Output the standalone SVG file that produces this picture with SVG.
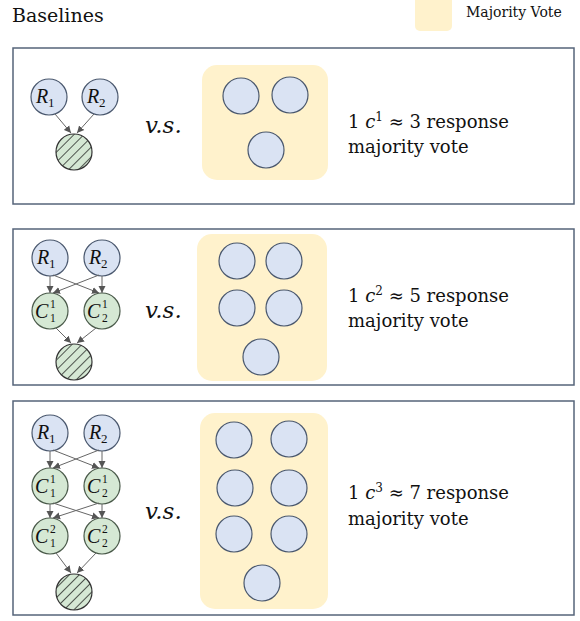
<svg xmlns="http://www.w3.org/2000/svg" width="580" height="621" viewBox="0 0 580 621">
<style>
.box{fill:#fff;stroke:#56647a;stroke-width:1.5}
.panel{fill:#fff2cc}
.rn{fill:#dae3f3;stroke:#4a586e;stroke-width:1.2}
.cn{fill:#d5e8d4;stroke:#4a5a4a;stroke-width:1.2}
.hn{fill:url(#hatch);stroke:#333;stroke-width:1.2}
.vn{fill:#dae3f3;stroke:#4a586e;stroke-width:1.2}
.edge{stroke:#666;stroke-width:1;fill:none;marker-end:url(#ah)}
.var{font-family:"Liberation Serif",serif;font-style:italic;font-size:20px;fill:#111}
.idx{font-family:"Liberation Serif",serif;font-size:13px;fill:#111}
.sx{font-family:"Liberation Serif",serif;font-size:11.5px;fill:#111}
.txt{font-family:"DejaVu Serif",serif;font-size:18px;fill:#111}
.vs{font-family:"DejaVu Serif",serif;font-style:italic;font-size:23px;fill:#111}
</style>
<defs>
<pattern id="hatch" patternUnits="userSpaceOnUse" width="7" height="7" patternTransform="rotate(45)">
<rect width="7" height="7" fill="#d5e8d4"/>
<line x1="0" y1="0" x2="0" y2="7" stroke="#111" stroke-width="1.4"/>
</pattern>
<marker id="ah" markerUnits="userSpaceOnUse" markerWidth="8" markerHeight="8" refX="7" refY="4" orient="auto">
<path d="M0,0.5 L7,4 L0,7.5 z" fill="#555"/>
</marker>
</defs>

<text x="12" y="22" class="txt" style="font-size:19px">Baselines</text>
<g id="legend">
<rect x="415" y="-6" width="37" height="37" rx="5" class="panel"/>
<text x="466" y="17" class="txt" style="font-size:14px">Majority Vote</text>
</g>

<!-- Box 1 -->
<g id="box1">
<rect x="13" y="48" width="561" height="156" class="box"/>
<rect x="202" y="65" width="126" height="115" rx="15" class="panel"/>
<circle cx="241" cy="96" r="18" class="vn"/>
<circle cx="290" cy="95" r="18" class="vn"/>
<circle cx="266" cy="150" r="18" class="vn"/>
<text x="145" y="133" class="vs">v.s.</text>
<text x="348" y="128" class="txt">1 <tspan style="font-style:italic">c</tspan><tspan dy="-7" style="font-size:12px">1</tspan><tspan dy="7">  ≈ 3 response</tspan></text>
<text x="348" y="153" class="txt">majority vote</text>
</g>
<g id="b1-R1"><circle cx="49" cy="97" r="18" class="rn"/><text x="36" y="103" class="var">R</text><text x="48" y="107" class="idx">1</text></g>
<g id="b1-R2"><circle cx="100" cy="97" r="18" class="rn"/><text x="87" y="103" class="var">R</text><text x="99" y="107" class="idx">2</text></g>
<g id="b1-H"><circle cx="74" cy="152" r="18" class="hn"/></g>
<g id="b1-edges">
<line x1="55" y1="114" x2="71" y2="133" class="edge"/>
<line x1="94" y1="114" x2="77" y2="133" class="edge"/>
</g>

<!-- Box 2 -->
<g id="box2">
<rect x="13" y="229" width="561" height="156" class="box"/>
<rect x="197" y="234" width="130" height="147" rx="15" class="panel"/>
<circle cx="237" cy="261" r="18" class="vn"/>
<circle cx="284" cy="261" r="18" class="vn"/>
<circle cx="237" cy="308" r="18" class="vn"/>
<circle cx="284" cy="308" r="18" class="vn"/>
<circle cx="261" cy="357" r="18" class="vn"/>
<text x="145" y="318" class="vs">v.s.</text>
<text x="348" y="302" class="txt">1 <tspan style="font-style:italic">c</tspan><tspan dy="-7" style="font-size:12px">2</tspan><tspan dy="7"> ≈ 5 response</tspan></text>
<text x="348" y="327" class="txt">majority vote</text>
</g>
<g id="b2-R1"><circle cx="50" cy="258" r="18" class="rn"/><text x="37" y="264" class="var">R</text><text x="49" y="268" class="idx">1</text></g>
<g id="b2-R2"><circle cx="102" cy="258" r="18" class="rn"/><text x="89" y="264" class="var">R</text><text x="101" y="268" class="idx">2</text></g>
<g id="b2-C1"><circle cx="50" cy="311" r="18" class="cn"/><text x="35" y="318" class="var">C</text><text x="50" y="308" class="sx">1</text><text x="50" y="322" class="sx">1</text></g>
<g id="b2-C2"><circle cx="102" cy="311" r="18" class="cn"/><text x="87" y="318" class="var">C</text><text x="102" y="308" class="sx">1</text><text x="102" y="322" class="sx">2</text></g>
<g id="b2-H"><circle cx="74" cy="362" r="18" class="hn"/></g>
<g id="b2-edges">
<line x1="50" y1="276" x2="50" y2="293" class="edge"/>
<line x1="102" y1="276" x2="102" y2="293" class="edge"/>
<line x1="53" y1="275" x2="99" y2="293" class="edge"/>
<line x1="99" y1="275" x2="53" y2="293" class="edge"/>
<line x1="56" y1="328" x2="71" y2="343" class="edge"/>
<line x1="96" y1="328" x2="77" y2="343" class="edge"/>
</g>

<!-- Box 3 -->
<g id="box3">
<rect x="13" y="401" width="561" height="214" class="box"/>
<rect x="200" y="413" width="128" height="196" rx="15" class="panel"/>
<circle cx="234" cy="440" r="18" class="vn"/>
<circle cx="289" cy="439" r="18" class="vn"/>
<circle cx="235" cy="488" r="18" class="vn"/>
<circle cx="289" cy="488" r="18" class="vn"/>
<circle cx="234" cy="534" r="18" class="vn"/>
<circle cx="289" cy="534" r="18" class="vn"/>
<circle cx="262" cy="583" r="18" class="vn"/>
<text x="145" y="519" class="vs">v.s.</text>
<text x="348" y="499" class="txt">1 <tspan style="font-style:italic">c</tspan><tspan dy="-7" style="font-size:12px">3</tspan><tspan dy="7"> ≈ 7 response</tspan></text>
<text x="348" y="525" class="txt">majority vote</text>
</g>
<g id="b3-R1"><circle cx="50" cy="433" r="18" class="rn"/><text x="37" y="439" class="var">R</text><text x="49" y="443" class="idx">1</text></g>
<g id="b3-R2"><circle cx="102" cy="433" r="18" class="rn"/><text x="89" y="439" class="var">R</text><text x="101" y="443" class="idx">2</text></g>
<g id="b3-C11"><circle cx="50" cy="486" r="18" class="cn"/><text x="35" y="493" class="var">C</text><text x="50" y="483" class="sx">1</text><text x="50" y="497" class="sx">1</text></g>
<g id="b3-C12"><circle cx="102" cy="486" r="18" class="cn"/><text x="87" y="493" class="var">C</text><text x="102" y="483" class="sx">1</text><text x="102" y="497" class="sx">2</text></g>
<g id="b3-C21"><circle cx="50" cy="536" r="18" class="cn"/><text x="35" y="543" class="var">C</text><text x="50" y="533" class="sx">2</text><text x="50" y="547" class="sx">1</text></g>
<g id="b3-C22"><circle cx="102" cy="536" r="18" class="cn"/><text x="87" y="543" class="var">C</text><text x="102" y="533" class="sx">2</text><text x="102" y="547" class="sx">2</text></g>
<g id="b3-H"><circle cx="74" cy="592" r="18" class="hn"/></g>
<g id="b3-edges">
<line x1="50" y1="451" x2="50" y2="468" class="edge"/>
<line x1="102" y1="451" x2="102" y2="468" class="edge"/>
<line x1="53" y1="450" x2="99" y2="468" class="edge"/>
<line x1="99" y1="450" x2="53" y2="468" class="edge"/>
<line x1="50" y1="504" x2="50" y2="518" class="edge"/>
<line x1="102" y1="504" x2="102" y2="518" class="edge"/>
<line x1="53" y1="503" x2="99" y2="518" class="edge"/>
<line x1="99" y1="503" x2="53" y2="518" class="edge"/>
<line x1="56" y1="553" x2="71" y2="573" class="edge"/>
<line x1="96" y1="553" x2="77" y2="573" class="edge"/>
</g>
</svg>
